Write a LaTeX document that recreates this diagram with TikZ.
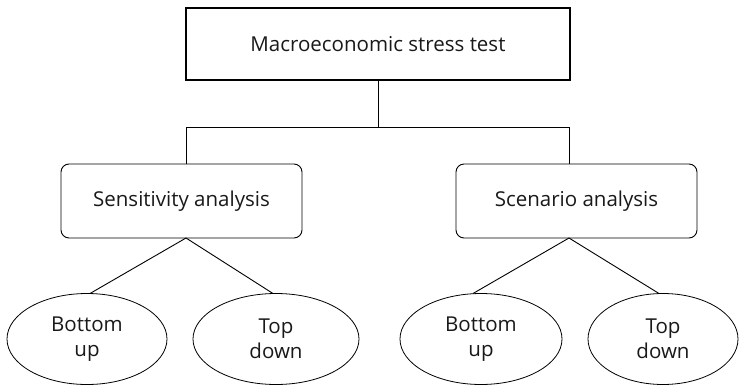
\documentclass[tikz,border=0pt]{standalone}
\usepackage{fontspec}
\setmainfont{Open Sans}
\usetikzlibrary{shapes.geometric}
\begin{document}
\begin{tikzpicture}[x=1pt,y=-1pt,
  txt/.style={font=\fontsize{20.5}{24}\selectfont, align=center, text=black!90},
  topbox/.style={txt, draw, line width=2.2pt, minimum width=384pt, minimum height=72pt},
  midbox/.style={txt, draw, line width=0.9pt, rounded corners=8pt, minimum width=241pt, minimum height=74pt},
  leaf/.style={txt, font=\fontsize{20.5}{25}\selectfont, draw, ellipse, line width=0.8pt, inner sep=0pt},
  conn/.style={line width=0.9pt}]
\useasboundingbox (0,0) rectangle (739,386);
\node[topbox] (top) at (378,44) {Macroeconomic stress test};
\node[midbox] (sens) at (181.5,201) {Sensitivity analysis};
\node[midbox] (scen) at (576.5,201) {Scenario analysis};
\node[leaf, minimum width=160pt, minimum height=91pt] (sb) at (87,339) {Bottom\\up};
\node[leaf, minimum width=166pt, minimum height=91pt] (st) at (276,339) {Top\\down};
\node[leaf, minimum width=162pt, minimum height=91pt] (cb) at (481,339) {Bottom\\up};
\node[leaf, minimum width=150pt, minimum height=91pt] (ct) at (663,339) {Top\\down};
\coordinate (j) at (378,127);
\draw[conn] (top.south) -- (j);
\draw[conn] (j) -| (sens.north -| 186,0);
\draw[conn] (j) -| (scen.north -| 569,0);
\coordinate (sa) at (186,238);
\coordinate (ca) at (569,238);
\draw[conn] (sa) -- (90,293.5);
\draw[conn] (sa) -- (273,293.5);
\draw[conn] (ca) -- (473,293.5);
\draw[conn] (ca) -- (659,293.5);
\end{tikzpicture}
\end{document}
